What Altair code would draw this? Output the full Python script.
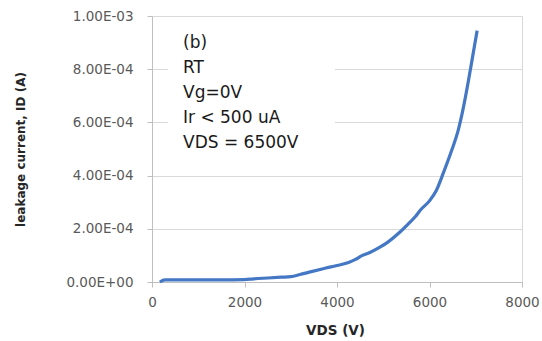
import altair as alt
import pandas as pd

vds = [170, 280, 500, 1000, 1500, 2000, 2200, 2500, 2800, 3000, 3200, 3400, 3700,
       4000, 4250, 4400, 4550, 4700, 4900, 5100, 5350, 5550, 5700, 5800, 6000,
       6150, 6300, 6480, 6620, 6720, 6830, 6920, 7030]
leak = [0.0, 8e-6, 8e-6, 8e-6, 8e-6, 9e-6, 1.2e-5, 1.5e-5, 1.8e-5, 2.0e-5, 2.8e-5,
        3.7e-5, 5.0e-5, 6.2e-5, 7.3e-5, 8.5e-5, 1.0e-4, 1.1e-4, 1.28e-4, 1.5e-4,
        1.86e-4, 2.2e-4, 2.47e-4, 2.7e-4, 3.05e-4, 3.45e-4, 4.1e-4, 4.95e-4,
        5.7e-4, 6.45e-4, 7.45e-4, 8.35e-4, 9.45e-4]
x_ticks = [0, 2000, 4000, 6000, 8000]
y_ticks = [0, 2e-4, 4e-4, 6e-4, 8e-4, 1e-3]
note_lines = ["(b)", "RT", "Vg=0V", "Ir < 500 uA", "VDS = 6500V"]

df = pd.DataFrame({"VDS": vds, "ID": leak})

FONT = "DejaVu Sans"

x = alt.X("VDS:Q", scale=alt.Scale(domain=[0, 8000], nice=False),
          axis=alt.Axis(values=x_ticks, grid=False, title="VDS (V)", format="d",
                        titleFont=FONT, titleFontSize=13.5, titleFontWeight="bold",
                        titleColor="#262626", titleX=183, titleY=48,
                        titleBaseline="middle",
                        labelFont=FONT, labelFontSize=13.5, labelColor="#595959",
                        labelPadding=8, tickSize=5, tickColor="#bfbfbf",
                        domainColor="#bfbfbf", labelFlush=False))
y = alt.Y("ID:Q", scale=alt.Scale(domain=[0, 1e-3], nice=False),
          axis=alt.Axis(values=y_ticks, grid=True, gridColor="#d9d9d9",
                        title="leakage current, ID (A)",
                        titleFont=FONT, titleFontSize=12, titleFontWeight="bold",
                        titleColor="#262626", titleX=-132, titleY=133,
                        titleAngle=-90, titleBaseline="middle", titleAlign="center",
                        labelFont=FONT, labelFontSize=13.5, labelColor="#595959",
                        labelPadding=14, tickSize=5, tickColor="#bfbfbf",
                        domainColor="#bfbfbf", labelFlush=False,
                        labelExpr="replace(replace(format(datum.value, '.2e'), 'e-', 'E-0'), 'e+', 'E+0')"))

line = alt.Chart(df).mark_line(color="#4477c4", strokeWidth=3.2,
                               interpolate="monotone").encode(x=x, y=y)

box = alt.Chart(pd.DataFrame({"a": [0]})).mark_rect(color="white").encode(
    x=alt.value(16), x2=alt.value(183), y=alt.value(10), y2=alt.value(145))

note = alt.Chart(pd.DataFrame({"a": [0]})).mark_text(
    text=note_lines, align="left", baseline="middle", lineHeight=25,
    font=FONT, fontSize=17, color="#1a1a1a").encode(
    x=alt.value(31), y=alt.value(27))

chart = alt.layer(line, box, note).properties(
    width=370, height=266,
    autosize=alt.AutoSizeParams(type="none"),
    padding={"left": 152, "top": 16, "right": 20, "bottom": 59},
    background="white",
).configure_view(stroke="#d9d9d9")

chart.save("out.html", embed_options={"renderer": "svg", "actions": False})
